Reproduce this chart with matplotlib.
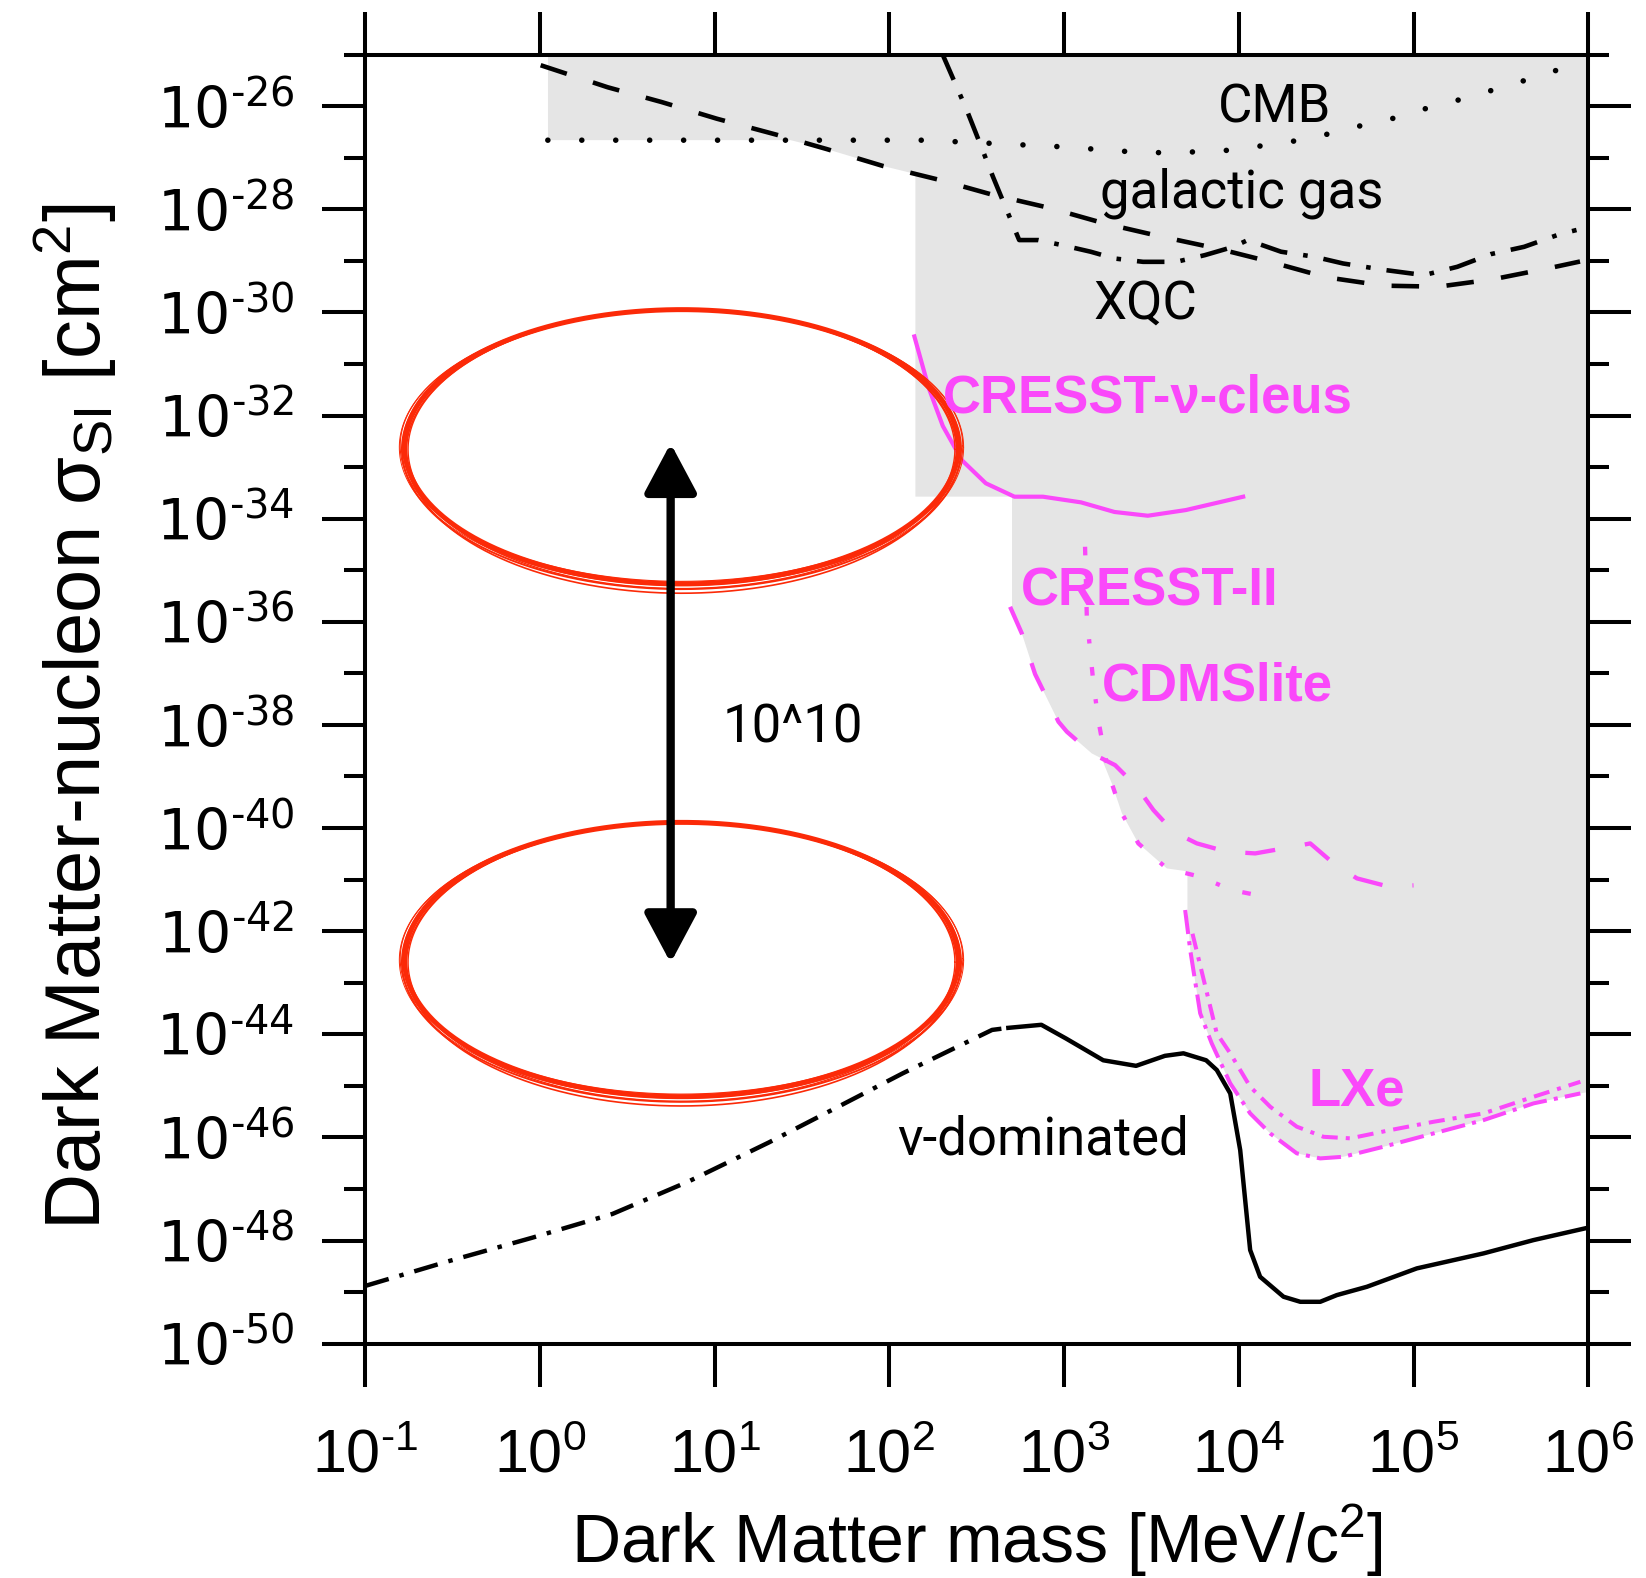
import numpy as np
import matplotlib
matplotlib.use("Agg")
import matplotlib.pyplot as plt
from matplotlib.ticker import FixedLocator, NullLocator

plt.rcParams["font.family"] = ["Liberation Sans", "DejaVu Sans"]
plt.rcParams["mathtext.fontset"] = "custom"
plt.rcParams["mathtext.rm"] = "Liberation Sans"
plt.rcParams["mathtext.it"] = "Liberation Sans:italic"
plt.rcParams["mathtext.bf"] = "Liberation Sans:bold"

MAGENTA = "#fa48fa"
GRAY = "#e5e5e5"
RED = "#fb2a08"
HYPHEN = "\u2010"

# All curves are stored as log10(mass / MeV c^-2) and log10(sigma / cm^2)
cmb_logm = [0.045, 1.0, 2.197, 2.606, 2.988, 3.383, 3.574, 3.765, 3.956, 4.160, 4.352,
            4.542, 4.733, 4.924, 5.102, 5.292, 5.483, 5.674, 5.851, 5.95]
cmb_logs = [-26.66, -26.66, -26.66, -26.725, -26.788, -26.885, -26.904, -26.885, -26.853,
            -26.755, -26.659, -26.517, -26.348, -26.206, -26.012, -25.851, -25.658,
            -25.463, -25.269, -25.16]

gas_logm = [0.004, 0.388, 0.695, 1.013, 1.350, 1.644, 1.963, 2.281, 2.582, 2.918, 3.237,
            3.549, 3.886, 4.174, 4.499, 4.829, 5.142, 5.454, 5.785, 5.953]
gas_logs = [-25.206, -25.634, -25.919, -26.244, -26.55, -26.835, -27.16, -27.425, -27.71,
            -27.975, -28.28, -28.524, -28.768, -29.013, -29.318, -29.481, -29.501,
            -29.358, -29.135, -29.013]

xqc_logm = [2.305, 2.443, 2.511, 2.593, 2.648, 2.743, 2.852, 2.988, 3.152, 3.288, 3.452,
            3.642, 3.806, 3.969, 4.051, 4.242, 4.433, 4.597, 4.842, 5.060, 5.251, 5.442,
            5.633, 5.837, 5.933]
xqc_logs = [-25.0, -26.077, -26.659, -27.37, -27.822, -28.597, -28.597, -28.695, -28.823,
            -28.954, -29.019, -29.019, -28.889, -28.728, -28.597, -28.823, -28.921,
            -29.051, -29.18, -29.277, -29.115, -28.87, -28.728, -28.483, -28.402]

nu_low_logm = [-1.0, -0.531, -0.045, 0.415, 0.850, 1.310, 1.694, 2.077, 2.434, 2.588, 2.681]
nu_low_logs = [-48.88, -48.408, -47.946, -47.484, -46.855, -46.098, -45.428, -44.756,
               -44.168, -43.915, -43.875]

nu_high_logm = [2.681, 2.870, 3.011, 3.224, 3.412, 3.577, 3.683, 3.813, 3.874, 3.951, 4.008,
                4.046, 4.065, 4.122, 4.256, 4.352, 4.466, 4.561, 4.733, 5.019, 5.401,
                5.687, 6.0]
nu_high_logs = [-43.875, -43.816, -44.082, -44.504, -44.612, -44.418, -44.369, -44.504,
                -44.693, -45.147, -46.246, -47.539, -48.184, -48.703, -49.090, -49.188,
                -49.188, -49.058, -48.897, -48.540, -48.249, -47.991, -47.75]

cleus_logm = [2.143, 2.225, 2.306, 2.416, 2.552, 2.716, 2.879, 3.097, 3.288, 3.479, 3.697, 4.025]
cleus_logs = [-30.466, -31.463, -32.204, -32.870, -33.314, -33.574, -33.574, -33.684,
              -33.870, -33.943, -33.833, -33.574]

cresst2_logm = [2.691, 2.758, 2.834, 2.968, 3.016, 3.159, 3.292, 3.416, 3.511, 3.626, 3.760,
                3.931, 4.094, 4.332, 4.409, 4.542, 4.676, 4.847, 5.000]
cresst2_logs = [-35.710, -36.225, -37.015, -37.939, -38.132, -38.554, -38.780, -39.199,
                -39.650, -40.074, -40.298, -40.459, -40.492, -40.349, -40.298, -40.685,
                -40.976, -41.127, -41.112]

cdms_logm = [3.120, 3.130, 3.149, 3.168, 3.196, 3.229, 3.273, 3.331, 3.425, 3.588, 3.779,
             3.960, 4.151]
cdms_logs = [-34.545, -35.903, -36.549, -37.196, -37.906, -38.521, -39.134, -39.716,
             -40.298, -40.783, -40.945, -41.204, -41.332]

lxe_a_logm = [3.693, 3.722, 3.779, 3.845, 3.951, 4.065, 4.180, 4.332, 4.466, 4.599, 4.828,
              5.114, 5.401, 5.687, 5.955]
lxe_a_logs = [-41.59, -42.366, -43.594, -44.176, -44.952, -45.534, -45.923, -46.309,
              -46.407, -46.375, -46.181, -45.923, -45.664, -45.340, -45.147]

lxe_b_logm = [3.735, 3.874, 3.951, 4.065, 4.180, 4.332, 4.485, 4.638, 4.867, 5.114, 5.401,
              5.687, 5.955]
lxe_b_logs = [-42.05, -43.983, -44.369, -45.017, -45.406, -45.792, -45.988, -46.018,
              -45.858, -45.697, -45.534, -45.212, -44.921]

# outline of the excluded (shaded) parameter space
excl_logm = [0.046, 0.046, 1.434, 1.644, 1.963, 2.149, 2.149, 2.702, 2.702, 2.758, 2.834,
             2.968, 3.016, 3.159, 3.215, 3.273, 3.331, 3.425, 3.588, 3.706, 3.706, 3.722,
             3.779, 3.845, 3.951, 4.065, 4.180, 4.332, 4.466, 4.599, 4.828, 5.114, 5.401,
             5.687, 5.955, 6.0, 6.0]
excl_logs = [-25.0, -26.659, -26.659, -26.835, -27.16, -27.315, -33.573, -33.573, -35.710,
             -36.225, -37.015, -37.939, -38.132, -38.554, -38.65, -39.134, -39.716,
             -40.298, -40.783, -40.84, -41.59, -42.366, -43.594, -44.176, -44.952,
             -45.534, -45.923, -46.309, -46.407, -46.375, -46.181, -45.923, -45.664,
             -45.340, -45.147, -45.12, -25.0]

x_exponents = list(range(-1, 7))
y_major_exponents = list(range(-50, -24, 2))
y_minor_exponents = list(range(-49, -24, 2))


def pts(logm, logs):
  """Convert stored log10 values back to linear mass / cross section."""
  return 10.0 ** np.asarray(logm, dtype=float), 10.0 ** np.asarray(logs, dtype=float)


def power_label(exp: int) -> str:
  sign = HYPHEN if exp < 0 else ""
  return "$10^{" + sign + str(abs(exp)) + "}$"


def sketch_ellipse(ax, cx, cy, a, b):
  """Hand-drawn looking ellipse made of a few overlapping strokes (log space)."""
  t = np.linspace(0.0, 2.0 * np.pi, 500)
  strokes = [(0.0, 0.0, 0.0, 3.6),
             (0.015, 0.05, -0.05, 1.4),
             (-0.01, 0.09, -0.09, 1.2),
             (0.025, -0.03, 0.02, 0.8),
             (-0.02, 0.04, -0.05, 1.0),
             (0.03, 0.02, -0.01, 0.7)]
  for da, db, dc, lw in strokes:
    xs = 10.0 ** (cx + (a + da) * np.cos(t))
    ys = 10.0 ** (cy + dc + (b + db) * np.sin(t))
    ax.plot(xs, ys, color=RED, lw=lw, solid_capstyle="round", zorder=5)


fig = plt.figure(figsize=(16.46, 15.78), dpi=100)
ax = fig.add_axes([0.2219, 0.1485, 0.7430, 0.8169])
ax.set_xscale("log")
ax.set_yscale("log")
ax.set_xlim(1e-1, 1e6)
ax.set_ylim(1e-50, 1e-25)

ax.fill(*pts(excl_logm, excl_logs), color=GRAY, lw=0, zorder=0)

ax.plot(*pts(cmb_logm, cmb_logs), color="black", lw=4.0, ls=(0, (0.01, 6.1)),
        dash_capstyle="round", zorder=2)
ax.plot(*pts(gas_logm, gas_logs), color="black", lw=3.3, ls=(0, (6, 6)), zorder=2)
ax.plot(*pts(xqc_logm, xqc_logs), color="black", lw=3.3, ls=(0, (6, 3.5, 1, 3.5)), zorder=2)
ax.plot(*pts(nu_low_logm, nu_low_logs), color="black", lw=3.2, ls=(0, (5.5, 2.5, 1, 2.5)),
        zorder=2)
ax.plot(*pts(nu_high_logm, nu_high_logs), color="black", lw=3.2, zorder=2)

ax.plot(*pts(cleus_logm, cleus_logs), color=MAGENTA, lw=3.0, zorder=3)
ax.plot(*pts(cresst2_logm, cresst2_logs), color=MAGENTA, lw=3.1, ls=(0, (7, 7)), zorder=3)
ax.plot(*pts(cdms_logm, cdms_logs), color=MAGENTA, lw=3.1, ls=(0, (2, 5.5, 1, 5.5)), zorder=3)
ax.plot(*pts(lxe_a_logm, lxe_a_logs), color=MAGENTA, lw=2.9, ls=(0, (6, 1.8, 1, 1.8)), zorder=3)
ax.plot(*pts(lxe_b_logm, lxe_b_logs), color=MAGENTA, lw=2.9, ls=(0, (4, 2, 1, 2)), zorder=3)

# red circles and the 10^10 span between them
sketch_ellipse(ax, 0.81, -32.606, 1.585, 2.66)
sketch_ellipse(ax, 0.81, -42.55, 1.585, 2.66)
ax.annotate("", xy=(10 ** 0.748, 10 ** -32.54), xytext=(10 ** 0.748, 10 ** -42.615),
            arrowprops=dict(arrowstyle="<|-|>,head_length=30,head_width=16",
                            mutation_scale=1, lw=6, color="black",
                            shrinkA=0, shrinkB=0), zorder=6)

light = dict(family=["Roboto", "DejaVu Sans"], fontweight="normal", fontsize=38,
             color="black", ha="left", va="baseline", zorder=7)
ax.text(10 ** 3.880, 10 ** -26.325, "CMB", **light)
ax.text(10 ** 3.207, 10 ** -27.975, "galactic gas", **light)
ax.text(10 ** 3.171, 10 ** -30.112, "XQC", **light)
ax.text(10 ** 2.047, 10 ** -46.336, "\u03bd-dominated", **light)
ax.text(10 ** 1.043, 10 ** -38.336, "10^10", **light)

bold = dict(fontsize=38, fontweight="bold", color=MAGENTA, ha="left", va="baseline", zorder=7)
ax.text(10 ** 2.305, 10 ** -31.944, "CRESST-\u03bd-cleus", **bold)
ax.text(10 ** 2.750, 10 ** -35.689, "CRESST-II", **bold)
ax.text(10 ** 3.219, 10 ** -37.522, "CDMSlite", **bold)
ax.text(10 ** 4.397, 10 ** -45.379, "LXe", **bold)

# axes frame and ticks
for spine in ax.spines.values():
  spine.set_linewidth(2.9)
ax.xaxis.set_minor_locator(NullLocator())
ax.set_xticks([10.0 ** e for e in x_exponents], [power_label(e) for e in x_exponents],
              fontsize=44)
ax.set_yticks([10.0 ** e for e in y_major_exponents],
              [power_label(e) for e in y_major_exponents],
              fontsize=41, fontfamily="DejaVu Sans", math_fontfamily="dejavusans")
ax.yaxis.set_minor_locator(FixedLocator([10.0 ** e for e in y_minor_exponents]))
ax.tick_params(which="both", direction="out", width=2.9, colors="black")
ax.tick_params(axis="x", which="major", length=31, top=True, bottom=True, pad=30)
ax.tick_params(axis="y", which="major", length=31, left=True, right=True, pad=20)
ax.tick_params(axis="y", which="minor", length=15, left=True, right=True,
               labelleft=False)

ax.set_xlabel("Dark Matter mass [MeV/c$^2$]", fontsize=49)
ax.xaxis.set_label_coords(0.5, -0.153)
ax.xaxis.label.set_va("center")
ax.set_ylabel("Dark Matter-nucleon \u03c3$_{\\mathrm{SI}}$ [cm$^2$]", fontsize=56)
ax.yaxis.set_label_coords(-0.237, 0.486)
ax.yaxis.label.set_va("center")

fig.savefig("out.png", dpi=100)
